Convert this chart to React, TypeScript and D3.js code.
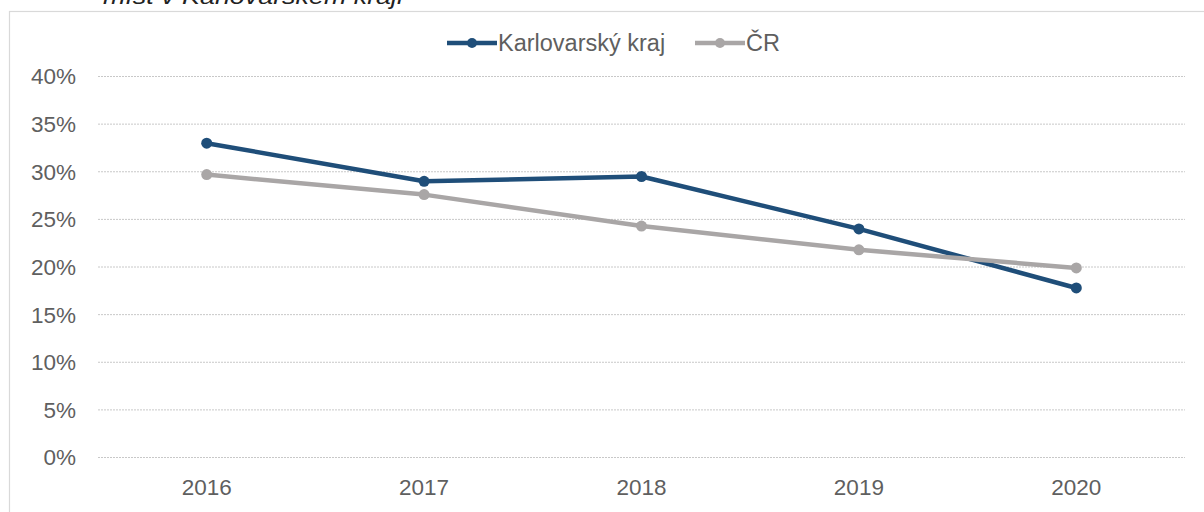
import React from "react";
import * as d3 from "d3";

const categories = ["2016", "2017", "2018", "2019", "2020"];
const karlovarsky = [33.0, 29.0, 29.5, 24.0, 17.8];
const cr = [29.7, 27.6, 24.3, 21.8, 19.9];
const yTicks = [0, 5, 10, 15, 20, 25, 30, 35, 40];
const seriesNames = ["Karlovarský kraj", "ČR"];
const titleText = "míst v Karlovarském kraji";

const W = 1204;
const H = 512;
const FONT = "'Liberation Sans', Arial, sans-serif";

export default function App() {
  const x = d3.scaleBand<string>().domain(categories).range([98, 1185]);
  const y = d3.scaleLinear().domain([0, 40]).range([457.5, 76.5]);
  const cx = (i: number) => (x(categories[i]) as number) + x.bandwidth() / 2;
  const line = d3
    .line<number>()
    .x((_, i) => cx(i))
    .y((d) => y(d));

  const series = [
    { name: seriesNames[0], values: karlovarsky, color: "#1F4E79" },
    { name: seriesNames[1], values: cr, color: "#A9A6A6" },
  ];
  const legendX = [447, 695];
  const legendY = 43;

  return (
    <svg
      width={W}
      height={H}
      style={{ position: "absolute", left: 0, top: 0, background: "#fff" }}
      fontFamily={FONT}
    >
      <text x={103} y={4} fontSize={22} fontStyle="italic" fill="#222" textLength={300} lengthAdjust="spacingAndGlyphs">
        {titleText}
      </text>
      <rect x={9.5} y={11.5} width={1300} height={600} fill="none" stroke="#D9D9D9" strokeWidth={1.2} />
      {yTicks.map((t) => (
        <g key={t}>
          <line x1={98} x2={1185} y1={y(t)} y2={y(t)} stroke="#C8C8C8" strokeWidth={1} strokeDasharray="2,1" />
          <text x={76} y={y(t)} dy="0.35em" textAnchor="end" fontSize={22.5} fill="#5F5F5F">
            {t}%
          </text>
        </g>
      ))}
      {categories.map((c, i) => (
        <text key={c} x={cx(i)} y={495} textAnchor="middle" fontSize={22.5} fill="#5F5F5F">
          {c}
        </text>
      ))}
      {series.map((s) => (
        <g key={s.name}>
          <path d={line(s.values) || ""} fill="none" stroke={s.color} strokeWidth={4.5} strokeLinejoin="round" />
          {s.values.map((v, i) => (
            <circle key={i} cx={cx(i)} cy={y(v)} r={5.5} fill={s.color} />
          ))}
        </g>
      ))}
      {series.map((s, i) => (
        <g key={"lg" + s.name}>
          <line x1={legendX[i]} x2={legendX[i] + 50} y1={legendY} y2={legendY} stroke={s.color} strokeWidth={4.5} />
          <circle cx={legendX[i] + 25} cy={legendY} r={5} fill={s.color} />
          <text x={legendX[i] + 51} y={legendY} dy="0.35em" fontSize={23.5} fill="#5F5F5F">
            {s.name}
          </text>
        </g>
      ))}
    </svg>
  );
}
